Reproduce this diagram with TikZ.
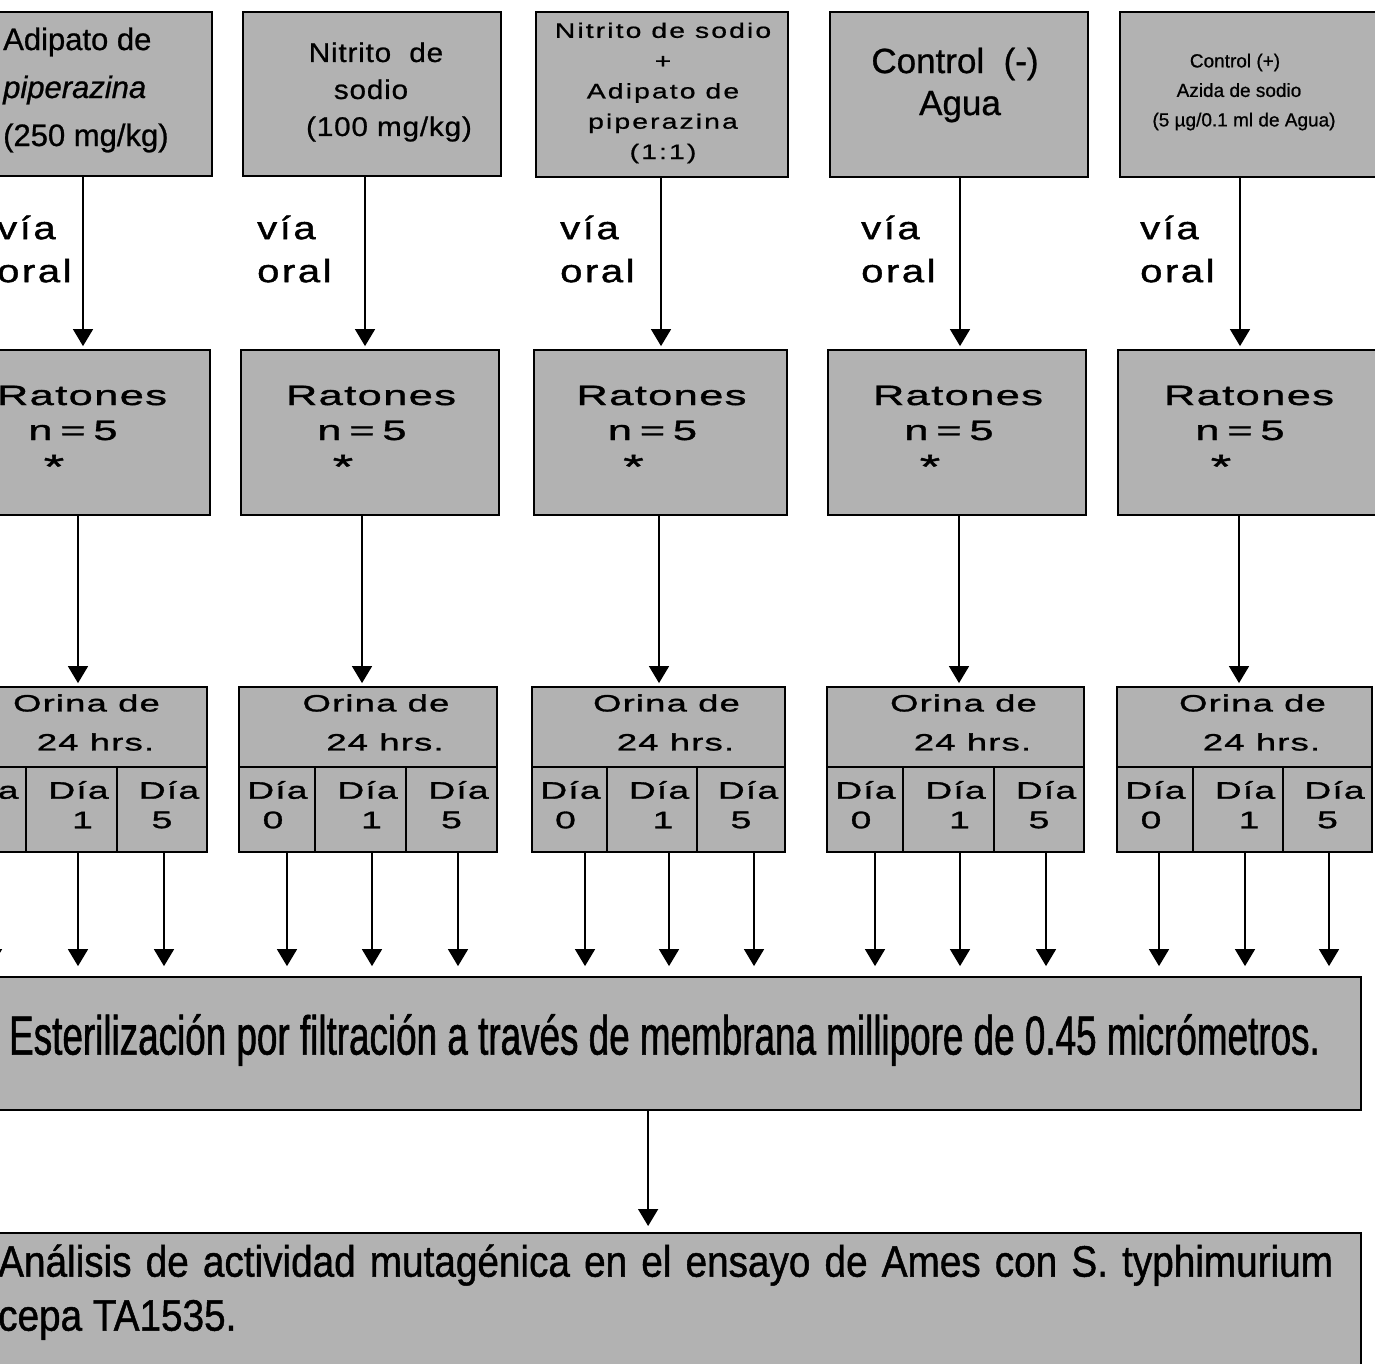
\documentclass[tikz,border=0pt]{standalone}
\usepackage{fontspec}
\setmainfont[FakeBold=0.8]{Liberation Sans}
\newfontfamily\wdf[FakeStretch=1.55,LetterSpace=5,FakeBold=1.3]{Liberation Sans}
\newfontfamily\vdf[FakeStretch=1.25,LetterSpace=8,FakeBold=1.3]{Liberation Sans}
\newfontfamily\mdf[FakeStretch=1.1,LetterSpace=3,FakeBold=0.8]{Liberation Sans}
\newfontfamily\bdf[FakeStretch=1.35,LetterSpace=10,FakeBold=0.8]{Liberation Sans}
\newfontfamily\nrf[FakeStretch=0.67,FakeBold=1]{Liberation Sans}
\newfontfamily\anf[FakeStretch=0.88,FakeBold=1]{Liberation Sans}
\usetikzlibrary{arrows.meta,calc}
\definecolor{boxgray}{gray}{0.7}
\begin{document}
\begin{tikzpicture}[x=1pt,y=-1pt,
  box/.style={draw, line width=1.8pt, fill=boxgray, inner sep=0pt},
  arr/.style={line width=1.5pt, -{Triangle[width=20pt,length=17pt]}},
  wtxt/.style={font=\wdf\fontsize{28}{34}\selectfont, inner sep=0pt},
  otxt/.style={font=\wdf\fontsize{23.5}{30}\selectfont, inner sep=0pt},
  dtxt/.style={font=\wdf\fontsize{24}{28}\selectfont, inner sep=0pt},
  vtxt/.style={font=\vdf\fontsize{32}{43}\selectfont, inner sep=0pt, align=left, anchor=west}]
\useasboundingbox (0,0) rectangle (1375,1363);
\fill[white] (0,0) rectangle (1375,1363);
\clip (0,0) rectangle (1375,1363);

% ---- top boxes
\node[box, minimum width=258pt, minimum height=164pt] (b1) at (83,94) {};
\node[box, minimum width=258pt, minimum height=164pt] (b2) at (372,94) {};
\node[box, minimum width=252pt, minimum height=165pt] (b3) at (662,94.5) {};
\node[box, minimum width=258pt, minimum height=165pt] (b4) at (959,94.5) {};
\node[box, minimum width=260pt, minimum height=165pt] (b5) at (1250,94.5) {};

\node[anchor=west, align=left, inner sep=0pt, font=\fontsize{31}{48}\selectfont] (t1) at (3,90)
  {Adipato de\\\textit{piperazina}\\(250 mg/kg)};
\node[align=center, inner sep=0pt, font=\mdf\fontsize{27}{37}\selectfont] (t2) at (389,92)
  {\hspace*{-26pt}Nitrito\ \ de\\\hspace*{-36pt}sodio\\(100 mg/kg)};
\node[align=center, inner sep=0pt, font=\bdf\fontsize{21}{30.3}\selectfont] (t3) at (663,93)
  {Nitrito de sodio\\+\\Adipato de\\piperazina\\(1:1)};
\node[align=center, inner sep=0pt, font=\fontsize{35}{42}\selectfont] (t4) at (955,85)
  {Control\ \ (-)\\\hspace*{10pt}Agua};
\node[align=center, inner sep=0pt, font=\fontsize{19}{29.5}\selectfont] (t5) at (1244,92)
  {\hspace*{-18pt}Control (+)\\\hspace*{-10pt}Azida de sodio\\(5 µg/0.1 ml de Agua)};

% ---- via oral
\foreach \x [count=\k] in {-3,257,560,861,1140}
  \node[vtxt] (v\k) at (\x,249) {vía\\oral};

% ---- Ratones boxes
\foreach \i/\x/\w in {1/81/258, 2/370/258, 3/660.5/253, 4/957/258, 5/1248/260} {
  \node[box, minimum width=\w pt, minimum height=165pt] (r\i) at (\x,432.5) {};
  \node[wtxt] (rt\i) at ($(r\i.center)+(1,-37)$) {Ratones};
  \node[wtxt] (rn\i) at ($(r\i.center)+(-8,-2)$) {n\;=\;5};
  \node[wtxt, font=\wdf\fontsize{34}{34}\selectfont] (rs\i) at ($(r\i.center)+(-27,34)$) {*};
}

% ---- arrows top -> Ratones
\foreach \i/\dx in {1/0, 2/-7, 3/-1, 4/1, 5/-10} {
  \coordinate (ta\i) at ($(b\i.south)+(\dx,0)$);
  \draw[arr, shorten >=3pt] (ta\i) -- (ta\i |- r\i.north);
}

% ---- Orina boxes
\foreach \i/\cx/\w/\ax/\aw/\bx/\bw/\ccx/\cw in {
  1/78.5/257/-12/76/71.5/91/162/90,
  2/368/258/277/76/360.5/91/451.5/91,
  3/658.5/253/569.5/75/652/90/741/88,
  4/955.5/257/865/76/948.5/91/1039/90,
  5/1244.5/255/1155/76/1238/90/1327.5/89} {
  \node[box, minimum width=\w pt, minimum height=80pt] (o\i) at (\cx,727) {};
  \node[box, minimum width=\aw pt, minimum height=85pt] (c\i a) at (\ax,809.5) {};
  \node[box, minimum width=\bw pt, minimum height=85pt] (c\i b) at (\bx,809.5) {};
  \node[box, minimum width=\cw pt, minimum height=85pt] (c\i c) at (\ccx,809.5) {};
  \node[otxt] (ot\i) at ($(o\i.center)+(8,-24)$) {Orina de};
  \node[otxt] (oh\i) at ($(o\i.center)+(17,15)$) {24 hrs.};
  \begin{scope}
    \clip (c\i a.south west) rectangle (c\i a.north east);
    \node[dtxt, anchor=west] (da\i) at ($(c\i a.west)+(9,-19.5)$) {Día};
  \end{scope}
  \node[dtxt] (na\i) at ($(c\i a.center)+(-4,10.5)$) {0};
  \node[dtxt] (db\i) at ($(c\i b.center)+(7,-19.5)$) {Día};
  \node[dtxt] (nb\i) at ($(c\i b.center)+(11,10.5)$) {1};
  \node[dtxt] (dc\i) at ($(c\i c.center)+(7,-19.5)$) {Día};
  \node[dtxt] (nc\i) at ($(c\i c.center)+(0,10.5)$) {5};
}

% ---- arrows Ratones -> Orina
\foreach \i/\dx in {1/-3, 2/-8, 3/-1.5, 4/2, 5/-9} {
  \coordinate (ra\i) at ($(r\i.south)+(\dx,0)$);
  \draw[arr, shorten >=3pt] (ra\i) -- (ra\i |- o\i.north);
}

% ---- filtration and analysis boxes
\node[box, minimum width=1420pt, minimum height=133pt, anchor=east] (filt) at (1362,1043.5) {};
\node[box, minimum width=1420pt, minimum height=150pt, anchor=north east] (ana) at (1362,1232) {};

\node[anchor=west, inner sep=0pt, font=\nrf\fontsize{55}{60}\selectfont] (ft) at (9,1040)
  {Esterilización por filtración a través de membrana millipore de 0.45 micrómetros.};
\node[anchor=west, align=left, inner sep=0pt, font=\anf\fontsize{44}{54}\selectfont] (at) at (-2,1292)
  {\makebox[1335pt][s]{Análisis de actividad mutagénica en el ensayo de Ames con S. typhimurium}\\cepa TA1535.};

% ---- arrows Orina -> filtration
\foreach \i/\da/\db/\dc in {1/4/6.5/2, 2/10/11.5/6.5, 3/15.5/17/13, 4/10/11.5/7, 5/4/7/1.5} {
  \coordinate (pa\i) at ($(c\i a.south)+(\da,0)$);
  \coordinate (pb\i) at ($(c\i b.south)+(\db,0)$);
  \coordinate (pc\i) at ($(c\i c.south)+(\dc,0)$);
  \draw[arr, shorten >=10pt] (pa\i) -- (pa\i |- filt.north);
  \draw[arr, shorten >=10pt] (pb\i) -- (pb\i |- filt.north);
  \draw[arr, shorten >=10pt] (pc\i) -- (pc\i |- filt.north);
}

% ---- arrow filtration -> analysis
\coordinate (fa) at ($(filt.south)+(-3,0)$);
\draw[arr, shorten >=6pt] (fa) -- (fa |- ana.north);
\end{tikzpicture}
\end{document}
